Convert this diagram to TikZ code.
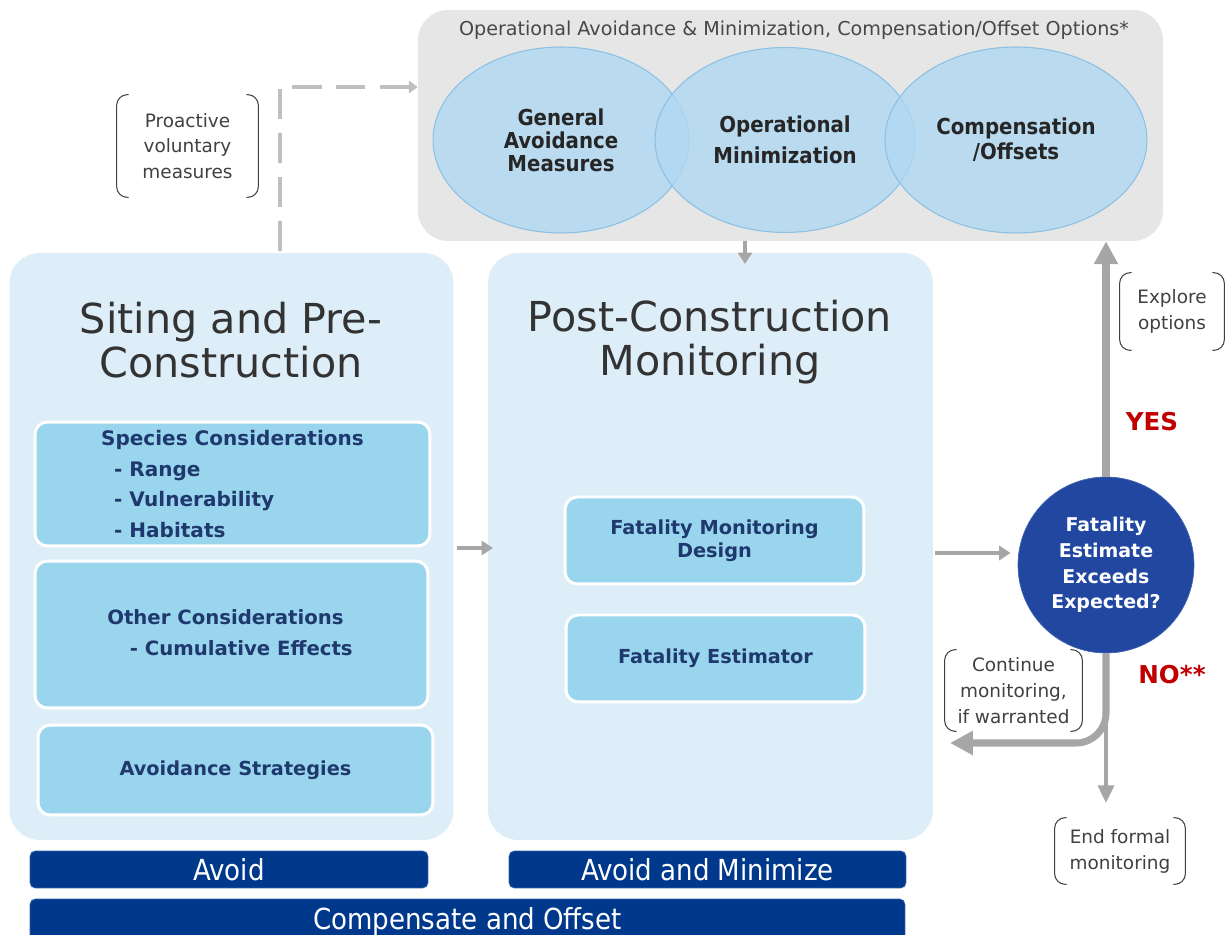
\documentclass[tikz,border=0pt]{standalone}
\usepackage{fontspec}
\setmainfont{DejaVu Sans}
\newfontfamily\cond{DejaVu Sans Condensed}
\usetikzlibrary{arrows.meta,calc,shapes.geometric}
\definecolor{panelblue}{RGB}{221,238,249}
\definecolor{inblue}{RGB}{153,214,238}
\definecolor{boxgray}{RGB}{230,230,230}
\definecolor{bubblefill}{RGB}{176,216,243}
\definecolor{bubbleedge}{RGB}{140,192,226}
\definecolor{barnavy}{RGB}{0,56,140}
\definecolor{decblue}{RGB}{33,71,160}
\definecolor{arrowgray}{RGB}{166,166,166}
\definecolor{dashgray}{RGB}{191,191,191}
\definecolor{darkred}{RGB}{192,0,0}
\definecolor{textnavy}{RGB}{31,56,110}
\definecolor{textgray}{RGB}{64,64,64}
\newcommand\brackets[1]{%
  \draw[brkline] ($(#1.north west)+(12,0)$) -- (#1.north west) -- (#1.south west) -- ($(#1.south west)+(12,0)$);
  \draw[brkline] ($(#1.north east)+(-12,0)$) -- (#1.north east) -- (#1.south east) -- ($(#1.south east)+(-12,0)$);}
\begin{document}
\begin{tikzpicture}[x=0.02cm,y=-0.02cm,
  panel/.style={fill=panelblue, draw=none, rounded corners=17pt, inner sep=0pt,
    minimum width=8.88cm, minimum height=11.74cm},
  graybox/.style={fill=boxgray, draw=none, rounded corners=17pt, inner sep=0pt},
  inbox/.style={fill=inblue, draw=white, line width=1.7pt, rounded corners=7pt, inner sep=0pt,
    font=\bfseries\fontsize{11}{17.6}\selectfont, text=textnavy},
  bub/.style={ellipse, fill=bubblefill, fill opacity=0.8, text opacity=1, draw=bubbleedge,
    line width=0.6pt, inner sep=0pt, align=center, text=black!85},
  bar/.style={fill=barnavy, rounded corners=3pt, draw=barnavy!80!white, inner sep=0pt,
    text=white, font=\cond\fontsize{16.5}{18}\selectfont},
  ptitle/.style={font=\fontsize{23.5}{25}\selectfont, text=black!80, align=center},
  brk/.style={inner sep=0pt, align=center, font=\fontsize{10.5}{14.7}\selectfont, text=textgray},
  brkline/.style={draw=textgray, line width=0.6pt, rounded corners=6pt},
  garrow/.style={draw=arrowgray, line width=2.3pt, -{Triangle[width=8pt,length=6.5pt]}},
  bigarrow/.style={draw=arrowgray, line width=4.5pt, -{Triangle[width=13pt,length=13pt]}},
  midarrow/.style={draw=arrowgray, line width=2.2pt, -{Triangle[width=9pt,length=10pt]}},
  dasharrow/.style={draw=dashgray, line width=2pt, dash pattern=on 17pt off 8pt,
    -{Triangle[width=7pt,length=5pt]}},
  answer/.style={font=\bfseries\fontsize{14}{16}\selectfont, text=darkred}
]
\useasboundingbox (0,0) rectangle (1225,935);

% top options box
\node[graybox, minimum width=14.9cm, minimum height=4.62cm] (opts) at (790.5,125.5) {};
\node[font=\fontsize{10.9}{12}\selectfont, text=black!72] (optst) at (794,30)
  {Operational Avoidance \& Minimization, Compensation/Offset Options*};
\node[bub, minimum width=5.12cm, minimum height=3.72cm,
  font=\cond\bfseries\fontsize{12.5}{13}\selectfont] (c1) at (561,140)
  {General\\Avoidance\\Measures};
\node[bub, minimum width=5.2cm, minimum height=3.7cm,
  font=\cond\bfseries\fontsize{12.5}{17.5}\selectfont] (c2) at (785,140)
  {Operational\\Minimization};
\node[bub, minimum width=5.24cm, minimum height=3.72cm,
  font=\cond\bfseries\fontsize{12.5}{14.2}\selectfont] (c3) at (1016,140)
  {Compensation\\/Offsets};

% panels
\node[panel] (site) at (231.5,546.5) {};
\node[panel, minimum width=8.9cm] (post) at (710.5,546.5) {};
\node[ptitle] (sitet) at (231,340) {Siting and Pre-\\Construction};
\node[ptitle] (postt) at (710,342) {Post-Construction\\Monitoring};

% left inner boxes
\node[inbox, minimum width=7.9cm, minimum height=2.48cm] (spec) at (232.5,484) {};
\node[font=\bfseries\fontsize{11.4}{17.6}\selectfont, text=textnavy, align=left, inner sep=0pt]
  (spect) at (232.5,484)
  {Species Considerations\\\hspace{0.65em}- Range\\\hspace{0.65em}- Vulnerability\\\hspace{0.65em}- Habitats};
\node[inbox, minimum width=7.86cm, minimum height=2.94cm] (other) at (231.5,634.5) {};
\node[font=\bfseries\fontsize{11.2}{17.6}\selectfont, text=textnavy, align=left, inner sep=0pt]
  (othert) at (230,633)
  {Other Considerations\\\hspace{1.15em}- Cumulative Effects};
\node[inbox, minimum width=7.9cm, minimum height=1.8cm] (avst) at (235.5,770) {Avoidance Strategies};

% middle inner boxes
\node[inbox, align=center, font=\bfseries\fontsize{11}{13}\selectfont,
  minimum width=5.98cm, minimum height=1.74cm] (fmd) at (714.5,540.5) {Fatality Monitoring\\Design};
\node[inbox, minimum width=5.98cm, minimum height=1.74cm] (fest) at (715.5,658.5) {Fatality Estimator};

% bottom bars
\node[bar, minimum width=7.96cm, minimum height=0.74cm] (bavoid) at (229,869.5) {Avoid};
\node[bar, minimum width=7.94cm, minimum height=0.74cm] (bmin) at (707.5,869.5) {Avoid and Minimize};
\node[bar, minimum width=17.5cm, minimum height=0.92cm] (bcomp) at (467.5,922)
  {\raisebox{3pt}{Compensate and Offset}};

% decision
\node[circle, fill=decblue, draw=decblue!85!white, minimum size=3.52cm, inner sep=0pt,
  text=white, align=center, font=\bfseries\fontsize{10.8}{14.7}\selectfont] (dec) at (1106,565)
  {Fatality\\Estimate\\Exceeds\\Expected?};

% bracket labels
\node[brk, minimum width=2.82cm, minimum height=2.04cm] (pro) at (187.5,146)
  {Proactive\\voluntary\\measures};
\brackets{pro}
\node[brk, minimum width=2.08cm, minimum height=1.54cm] (expl) at (1172,311.5)
  {Explore\\options};
\brackets{expl}
\node[brk, minimum width=2.74cm, minimum height=1.62cm] (cont) at (1013.5,690.5)
  {Continue\\monitoring,\\if warranted};
\brackets{cont}
\node[brk, minimum width=2.6cm, minimum height=1.32cm] (endm) at (1120,851)
  {End formal\\monitoring};
\brackets{endm}

% answers
\node[answer] (yes) at (1152,422) {YES};
\node[answer] (no) at (1172,675) {NO**};

% connectors
\coordinate (dstart) at (280,251);
\coordinate (dy) at (0,87);
\draw[dasharrow] (dstart) |- (opts.west |- dy);
\coordinate (a1e) at (745,264);
\draw[garrow, line width=1.8pt] (opts.south -| a1e) -- (a1e);
\coordinate (a2) at (0,548);
\draw[garrow] ([xshift=2pt]site.east |- a2) -- ([xshift=3pt]post.west |- a2);
\coordinate (a3) at (0,553);
\draw[garrow] ([xshift=1pt]post.east |- a3) -- ([xshift=-4pt]dec.west |- a3);
\draw[bigarrow] (dec.north) -- (opts.south -| dec.north);
\coordinate (contend) at (950,743);
\coordinate (endtip) at (1106,803);
\draw[midarrow] (dec.south) -- (endtip);
\draw[bigarrow, line width=4pt, rounded corners=17pt] (dec.south) |- (contend);
\end{tikzpicture}
\end{document}
